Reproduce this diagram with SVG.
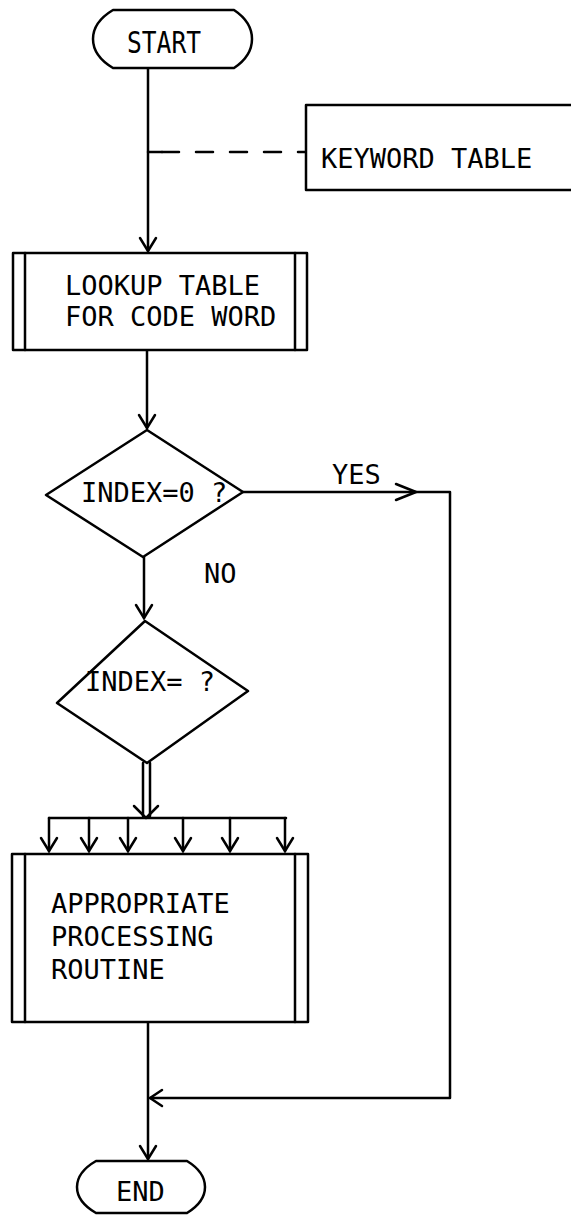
<svg xmlns="http://www.w3.org/2000/svg" width="571" height="1215" viewBox="0 0 571 1215">
<style>
.s{fill:none;stroke:#000;stroke-width:2.5;stroke-linejoin:round;stroke-linecap:round}
.w{fill:#fff;stroke:#000;stroke-width:2.5;stroke-linejoin:round}
.t{font-family:"DejaVu Sans Mono","Liberation Mono",monospace;font-size:27px;fill:#000}
</style>
<defs>
<marker id="a" markerUnits="userSpaceOnUse" markerWidth="30" markerHeight="30" refX="0" refY="0" viewBox="-15 -15 30 30" orient="auto">
<path d="M -13 -8 L 0 0 L -13 8" fill="none" stroke="#000" stroke-width="2.5" stroke-linecap="round"/>
</marker>
</defs>
<rect width="571" height="1215" fill="#fff"/>
<g id="connectors">
<path class="s" d="M 148 68 V 251" marker-end="url(#a)"/>
<path class="s" d="M 148 152 H 306" stroke-dasharray="17 17" stroke-dashoffset="-14"/>
<path class="s" d="M 148 152 H 162"/>
<path class="s" d="M 147 350 V 428" marker-end="url(#a)"/>
<path class="s" d="M 144 557 V 618" marker-end="url(#a)"/>
<path class="s" d="M 243 492 H 450 V 1098 H 150" />
<path class="s" d="M 396 484 L 416 492 L 396 500"/>
<path class="s" d="M 162 1090 L 150 1098 L 162 1106"/>
<path class="s" d="M 143 763 V 816 M 150 763 V 816"/>
<path class="s" d="M 134 806 L 146 818 L 158 806"/>
<path class="s" d="M 49 818 H 286"/>
<path class="s" d="M 49 818 V 851" marker-end="url(#a)"/>
<path class="s" d="M 89 818 V 851" marker-end="url(#a)"/>
<path class="s" d="M 128 818 V 851" marker-end="url(#a)"/>
<path class="s" d="M 183 818 V 851" marker-end="url(#a)"/>
<path class="s" d="M 230 818 V 851" marker-end="url(#a)"/>
<path class="s" d="M 285 818 V 851" marker-end="url(#a)"/>
<path class="s" d="M 148 1022 V 1159" marker-end="url(#a)"/>
</g>
<g id="start">
<path class="w" d="M 113 10 H 234 Q 252 22 252 39 Q 252 56 234 68 H 113 Q 93 56 93 39 Q 93 22 113 10 Z"/>
<text class="t" x="127" y="53" style="font-size:31px" textLength="74" lengthAdjust="spacingAndGlyphs">START</text>
</g>
<g id="keyword">
<path class="w" d="M 573 105 H 306 V 190 H 573"/>
<text class="t" x="321" y="168">KEYWORD TABLE</text>
</g>
<g id="lookup">
<rect class="w" x="13" y="253" width="294" height="97"/>
<path class="s" d="M 25 253 V 350 M 295 253 V 350"/>
<text class="t" x="65" y="295">LOOKUP TABLE</text>
<text class="t" x="65" y="326">FOR CODE WORD</text>
</g>
<g id="index0">
<path class="w" d="M 147 430 L 243 492 L 143 557 L 46 495 Z"/>
<text class="t" x="81" y="502">INDEX=0 ?</text>
</g>
<text class="t" x="204" y="583">NO</text>
<text class="t" x="332" y="484">YES</text>
<g id="index">
<path class="w" d="M 145 621 L 248 691 L 147 763 L 57 703 Z"/>
<text class="t" x="85" y="691">INDEX= ?</text>
</g>
<g id="routine">
<rect class="w" x="12" y="854" width="296" height="168"/>
<path class="s" d="M 25 854 V 1022 M 295 854 V 1022"/>
<text class="t" x="51" y="913">APPROPRIATE</text>
<text class="t" x="51" y="946">PROCESSING</text>
<text class="t" x="51" y="979">ROUTINE</text>
</g>
<g id="end">
<path class="w" d="M 96 1161 H 187 Q 205 1172 205 1187 Q 205 1202 187 1213 H 96 Q 77 1202 77 1187 Q 77 1172 96 1161 Z"/>
<text class="t" x="116" y="1201">END</text>
</g>
</svg>
